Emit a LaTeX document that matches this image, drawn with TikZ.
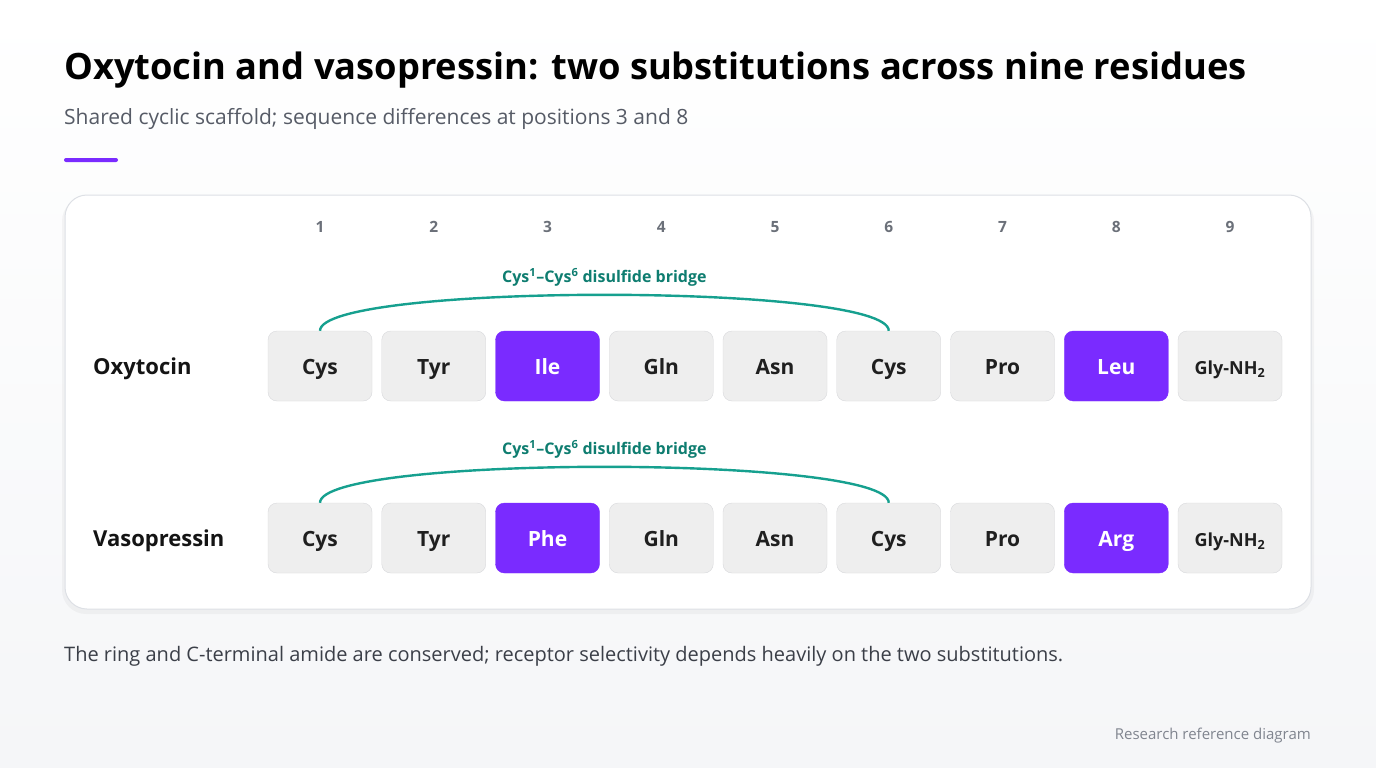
\documentclass[tikz,border=0pt]{standalone}
\usepackage{fontspec}
\setmainfont{Open Sans}
\usetikzlibrary{positioning,calc}

\definecolor{accent}{HTML}{7A2BFF}
\definecolor{bridgeteal}{HTML}{16A08F}
\definecolor{labelteal}{HTML}{0E7D70}
\definecolor{boxgray}{HTML}{EEEEEE}
\definecolor{boxline}{HTML}{D8D9DC}
\definecolor{subgray}{HTML}{565B66}
\definecolor{posgray}{HTML}{6B7079}
\definecolor{cardline}{HTML}{DDE0E5}
\definecolor{footgray}{HTML}{3B3F48}
\definecolor{creditgray}{HTML}{80858F}
\definecolor{bgbottom}{HTML}{F5F6F8}

\tikzset{
  residue/.style={draw=boxline, fill=boxgray, rounded corners=9pt, minimum width=104pt,
    minimum height=70pt, inner sep=0pt, text height=16pt, text depth=0pt, text=black!88,
    font=\fontsize{21}{25}\selectfont\bfseries},
  swap/.style={residue, draw=accent, fill=accent, text=white},
  glyres/.style={residue, font=\fontsize{18}{22}\selectfont\bfseries},
  posnum/.style={text=posgray, font=\fontsize{15.5}{18}\selectfont\bfseries},
  rowlabel/.style={anchor=base west, inner sep=0pt, text=black!92, font=\fontsize{22}{26}\selectfont\bfseries},
  bridge/.style={draw=bridgeteal, line width=2.4pt},
  bridgelabel/.style={text=labelteal, inner sep=0pt, font=\fontsize{16}{19}\selectfont\bfseries}
}

\begin{document}
\begin{tikzpicture}[x=1pt,y=-1pt]
  % page and background
  \useasboundingbox (0,0) rectangle (1376,768);
  \shade[top color=white, bottom color=bgbottom] (0,0) rectangle (1376,768);

  % heading
  \node[anchor=base west, inner sep=0pt, font=\fontsize{36.3}{44}\selectfont\bfseries] (title) at (64,80)
    {Oxytocin and vasopressin: two substitutions across nine residues};
  \node[anchor=base west, inner sep=0pt, text=subgray, font=\fontsize{21}{25}\selectfont] (subtitle) at (64,124)
    {Shared cyclic scaffold; sequence differences at positions 3 and 8};
  \fill[accent, rounded corners=2pt] (64,158) rectangle (118,162);

  % card
  \fill[black, opacity=0.035, rounded corners=24pt] (62,197) rectangle (1314,614);
  \draw[cardline, fill=white, line width=1pt, rounded corners=22pt] (65,195) rectangle (1311,609);

  % residue positions
  \foreach \i in {1,...,9}
    \node[posnum] (p\i) at ({320+(\i-1)*113.75},227) {\i};

  % the two sequences
  \foreach \row/\yy/\name/\third/\eighth in {o/366/Oxytocin/Ile/Leu, v/538/Vasopressin/Phe/Arg}{
    \node[rowlabel] (\row label) at (93,\yy+8) {\name};
    \foreach \res/\sty [count=\i] in {Cys/residue, Tyr/residue, \third/swap, Gln/residue, Asn/residue,
        Cys/residue, Pro/residue, \eighth/swap, {Gly-NH\textsubscript{2}}/glyres}
      \node[\sty] (\row\i) at ({320+(\i-1)*113.75},\yy) {\res};
    % disulfide bridge
    \draw[bridge] (\row1.north) .. controls +(0,-48) and +(0,-48) .. (\row6.north)
      node[midway, anchor=base, yshift=12pt, bridgelabel] {Cys\textsuperscript{1}--Cys\textsuperscript{6} disulfide bridge};
  }

  % notes
  \node[anchor=base west, inner sep=0pt, text=footgray, font=\fontsize{20}{24}\selectfont] (note) at (64,661)
    {The ring and C-terminal amide are conserved; receptor selectivity depends heavily on the two substitutions.};
  \node[anchor=base east, inner sep=0pt, text=creditgray, font=\fontsize{15}{18}\selectfont] (credit) at (1311,739)
    {Research reference diagram};
\end{tikzpicture}
\end{document}
